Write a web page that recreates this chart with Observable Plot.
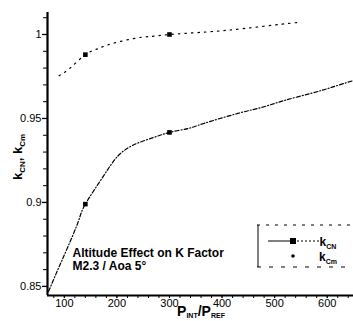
<!DOCTYPE html>
<html><head><meta charset="utf-8">
<script src="https://cdn.jsdelivr.net/npm/d3@7"></script>
<script src="https://cdn.jsdelivr.net/npm/@observablehq/plot@0.6"></script>
<style>body{margin:0;background:#fff} svg{display:block}</style>
</head><body><div id="chart"></div>
<script>
// Series: k_CN (upper) and k_Cm (lower) vs P_INT/P_REF
const markerX = [140, 300];
const kcnMarkers = [0.988, 1.0];
const kcmMarkers = [0.899, 0.9417];
const kcnCurveX = [90, 111, 140, 165, 191, 239, 264, 300, 370, 440, 515, 550];
const kcnCurveY = [0.9755, 0.980, 0.988, 0.9917, 0.9946, 0.998, 0.9988, 1.0, 1.0015, 1.0035, 1.0062, 1.0073];
const kcmCurveX = [70, 87, 106, 127, 140, 175, 200, 230, 270, 300, 335, 365, 430, 480, 518, 569, 608, 650];
const kcmCurveY = [0.847, 0.8595, 0.873, 0.889, 0.899, 0.916, 0.927, 0.934, 0.9387, 0.9417, 0.944, 0.947, 0.953, 0.957, 0.9607, 0.9649, 0.9685, 0.9726];
const xTicks = [100, 200, 300, 400, 500, 600];
const xMinorTicks = d3.range(80, 660, 20);
const yTicks = [0.85, 0.9, 0.95, 1];
const yTickLabels = ["0.85", "0.9", "0.95", "1"];
const yMinorTicks = d3.range(85, 102).map(v => v / 100);
const annotation = "Altitude Effect on K Factor\nM2.3 / Aoa 5°";

const xDomain = [68, 650];
const yDomain = [0.8446, 1.0131];

const kcnCurve = kcnCurveX.map((x, i) => ({x, y: kcnCurveY[i]}));
const kcmCurve = kcmCurveX.map((x, i) => ({x, y: kcmCurveY[i]}));
const kcnPts = markerX.map((x, i) => ({x, y: kcnMarkers[i]}));
const kcmPts = markerX.map((x, i) => ({x, y: kcmMarkers[i]}));

const font = "'Liberation Sans', Arial, Helvetica, sans-serif";

const chart = Plot.plot({
  width: 353, height: 321,
  marginLeft: 47, marginRight: 0, marginTop: 12, marginBottom: 26,
  style: {fontFamily: font, fontSize: "11px", color: "#000", background: "#fff"},
  x: {domain: xDomain},
  y: {domain: yDomain},
  marks: [
    Plot.axisY(yMinorTicks, {tickSize: 4, tickFormat: () => "", strokeWidth: 1, label: null}),
    Plot.axisY(yTicks, {tickSize: 5, tickPadding: 1, tickFormat: (d, i) => yTickLabels[i], strokeWidth: 1.3, label: null, fontSize: 11, fill: "#000"}),
    Plot.axisX(xMinorTicks, {tickSize: 3, tickFormat: () => "", label: null}),
    Plot.axisX(xTicks, {tickSize: 3, tickPadding: 1, tickFormat: d => String(d), label: null, fontSize: 11, fill: "#000"}),
    Plot.ruleX([xDomain[0]], {strokeWidth: 2.2}),
    Plot.ruleY([yDomain[0]], {strokeWidth: 2.2}),
    Plot.line(kcnCurve, {x: "x", y: "y", curve: "natural", stroke: "#000", strokeWidth: 1.2, strokeDasharray: "1.5,5"}),
    Plot.line(kcmCurve, {x: "x", y: "y", curve: "natural", stroke: "#000", strokeWidth: 1.2, strokeDasharray: "4,2,1,2"}),
    Plot.dot(kcnPts, {x: "x", y: "y", symbol: "square", r: 2.6, fill: "#000"}),
    Plot.dot(kcmPts, {x: "x", y: "y", symbol: "square", r: 2.6, fill: "#000"}),
    Plot.text([annotation], {frameAnchor: "top-left", dx: 25, dy: 235, text: d => d, textAnchor: "start", lineAnchor: "top", lineHeight: 1.1, fontSize: 12, fontWeight: "bold", fill: "#000"})
  ]
});
document.getElementById("chart").appendChild(chart);

// Labels with subscripts and legend
const svg = d3.select(chart);
function subLabel(g, parts, size, subSize, shift) {
  const t = g.append("text").attr("font-family", font).attr("font-weight", "bold").attr("font-size", size).attr("fill", "#000");
  let down = 0;
  parts.forEach(([s, sub]) => {
    t.append("tspan").attr("dy", -down).text(s);
    down = 0;
    if (sub) {
      t.append("tspan").attr("font-size", subSize).attr("dy", shift).text(sub);
      down = shift;
    }
  });
  return t;
}
// x label
subLabel(svg, [["P", "INT"], ["/P", "REF"]], 14, 7, 1.5).attr("x", 201).attr("y", 316).attr("text-anchor", "middle");
// y label
subLabel(svg.append("g").attr("transform", "translate(22,157) rotate(-90)"), [["k", "CN"], [", k", "Cm"]], 13, 8, 3)
  .attr("text-anchor", "middle");

// legend
const lg = svg.append("g");
lg.append("line").attr("x1", 257).attr("x2", 353).attr("y1", 225).attr("y2", 225).attr("stroke", "#000").attr("stroke-dasharray", "3,6").attr("stroke-width", 1);
lg.append("line").attr("x1", 257).attr("x2", 353).attr("y1", 267).attr("y2", 267).attr("stroke", "#000").attr("stroke-dasharray", "4,8").attr("stroke-width", 1);
lg.append("line").attr("x1", 258).attr("x2", 258).attr("y1", 225).attr("y2", 267).attr("stroke", "#000").attr("stroke-width", 1);
lg.append("line").attr("x1", 268).attr("x2", 293).attr("y1", 241).attr("y2", 241).attr("stroke", "#000").attr("stroke-width", 1);
lg.append("line").attr("x1", 293).attr("x2", 320).attr("y1", 241).attr("y2", 241).attr("stroke", "#000").attr("stroke-width", 1).attr("stroke-dasharray", "2,2");
lg.append("rect").attr("x", 290).attr("y", 238).attr("width", 6).attr("height", 6).attr("fill", "#000");
lg.append("circle").attr("cx", 293).attr("cy", 256).attr("r", 1.8).attr("fill", "#000");
subLabel(lg, [["k", "CN"]], 12, 7, 2.5).attr("x", 328).attr("y", 246);
subLabel(lg, [["k", "Cm"]], 12, 7, 2.5).attr("x", 328).attr("y", 261);
</script>
</body></html>
